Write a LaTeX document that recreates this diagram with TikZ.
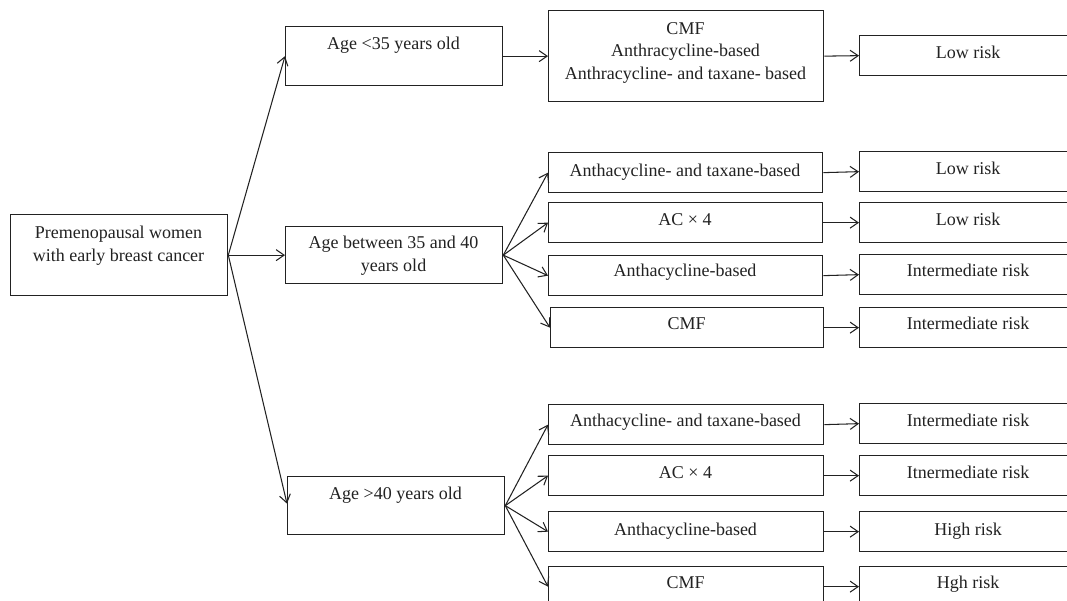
\documentclass[tikz,border=0pt]{standalone}
\usepackage{fontspec}
\setmainfont{Liberation Serif}
\usetikzlibrary{arrows.meta}
\definecolor{ink}{HTML}{222222}
\tikzset{
  bx/.style={draw=ink, line width=1.3pt, inner sep=0pt, anchor=north west},
  tx/.style={inner sep=0pt, anchor=north, align=center, text=ink, yshift=-1.8pt,
             font=\fontsize{18}{22.5}\selectfont},
  arr/.style={draw=ink, line width=1.05pt, -{Straight Barb[length=8pt,width=11pt,line width=1.05pt]}}
}
\begin{document}
\begin{tikzpicture}[x=1pt,y=-1pt]
\useasboundingbox (0,0) rectangle (1067,601);
\fill[white] (0,0) rectangle (1067,601);
\clip (0,0) rectangle (1067,601);

% level 0
\node[bx, minimum width=217pt, minimum height=81pt] (start) at (10,214) {};
\node[tx] (startT) at (118.5,224.5) {Premenopausal women\\with early breast cancer};

% level 1
\node[bx, minimum width=217pt, minimum height=59pt] (a35) at (285,26) {};
\node[tx] (a35T) at (393.5,35.5) {Age <35 years old};
\node[bx, minimum width=217pt, minimum height=57pt] (a3540) at (285,226) {};
\node[tx] (a3540T) at (393.5,234.5) {Age between 35 and 40\\years old};
\node[bx, minimum width=217pt, minimum height=58pt] (a40) at (287,476) {};
\node[tx] (a40T) at (395.5,485.5) {Age >40 years old};

% top group
\node[bx, minimum width=275pt, minimum height=91pt] (t0) at (548,10) {};
\node[tx] (t0T) at (685.5,20.5) {CMF\\Anthracycline-based\\Anthracycline- and taxane- based};
\node[bx, minimum width=220pt, minimum height=40pt] (r0) at (859,35) {};
\node[tx] (r0T) at (968,44.5) {Low risk};

% middle group
\node[bx, minimum width=274pt, minimum height=40pt] (m1) at (548,152) {};
\node[tx] (m1T) at (685,162.5) {Anthacycline- and taxane-based};
\node[bx, minimum width=274pt, minimum height=40pt] (m2) at (548,202) {};
\node[tx] (m2T) at (685,211.5) {AC × 4};
\node[bx, minimum width=274pt, minimum height=40pt] (m3) at (548,255) {};
\node[tx] (m3T) at (685,262.5) {Anthacycline-based};
\node[bx, minimum width=273pt, minimum height=40pt] (m4) at (550,307) {};
\node[tx] (m4T) at (686.5,315.5) {CMF};

\node[bx, minimum width=220pt, minimum height=40pt] (mr1) at (859,151) {};
\node[tx] (mr1T) at (968,160.5) {Low risk};
\node[bx, minimum width=220pt, minimum height=40pt] (mr2) at (859,202) {};
\node[tx] (mr2T) at (968,211.5) {Low risk};
\node[bx, minimum width=220pt, minimum height=40pt] (mr3) at (859,254) {};
\node[tx] (mr3T) at (968,262.5) {Intermediate risk};
\node[bx, minimum width=220pt, minimum height=40pt] (mr4) at (859,307) {};
\node[tx] (mr4T) at (968,315.5) {Intermediate risk};

% bottom group
\node[bx, minimum width=275pt, minimum height=40pt] (b1) at (548,404) {};
\node[tx] (b1T) at (685.5,412.5) {Anthacycline- and taxane-based};
\node[bx, minimum width=275pt, minimum height=40pt] (b2) at (548,455) {};
\node[tx] (b2T) at (685.5,464.5) {AC × 4};
\node[bx, minimum width=275pt, minimum height=40pt] (b3) at (548,511) {};
\node[tx] (b3T) at (685.5,521.5) {Anthacycline-based};
\node[bx, minimum width=275pt, minimum height=40pt] (b4) at (548,566) {};
\node[tx] (b4T) at (685.5,574.5) {CMF};

\node[bx, minimum width=220pt, minimum height=40pt] (br1) at (859,403) {};
\node[tx] (br1T) at (968,412.5) {Intermediate risk};
\node[bx, minimum width=220pt, minimum height=40pt] (br2) at (859,455) {};
\node[tx] (br2T) at (968,464.5) {Itnermediate risk};
\node[bx, minimum width=220pt, minimum height=40pt] (br3) at (859,511) {};
\node[tx] (br3T) at (968,521.5) {High risk};
\node[bx, minimum width=220pt, minimum height=40pt] (br4) at (859,566) {};
\node[tx] (br4T) at (968,574.5) {Hgh risk};

% connectors
\draw[arr] (start.east) -- (a35.west);
\draw[arr] (start.east) -- (a3540.west);
\draw[arr] (start.east) -- ([yshift=2pt]a40.west);

\draw[arr] (a35.east) -- (t0.west);
\draw[arr] (t0.east) -- (r0.west);

\foreach \i in {1,2,3,4}{
  \draw[arr] (a3540.east) -- (m\i.west);
  \draw[arr] (m\i.east) -- (mr\i.west);
  \draw[arr] (a40.east) -- (b\i.west);
  \draw[arr] (b\i.east) -- (br\i.west);
}
\end{tikzpicture}
\end{document}
